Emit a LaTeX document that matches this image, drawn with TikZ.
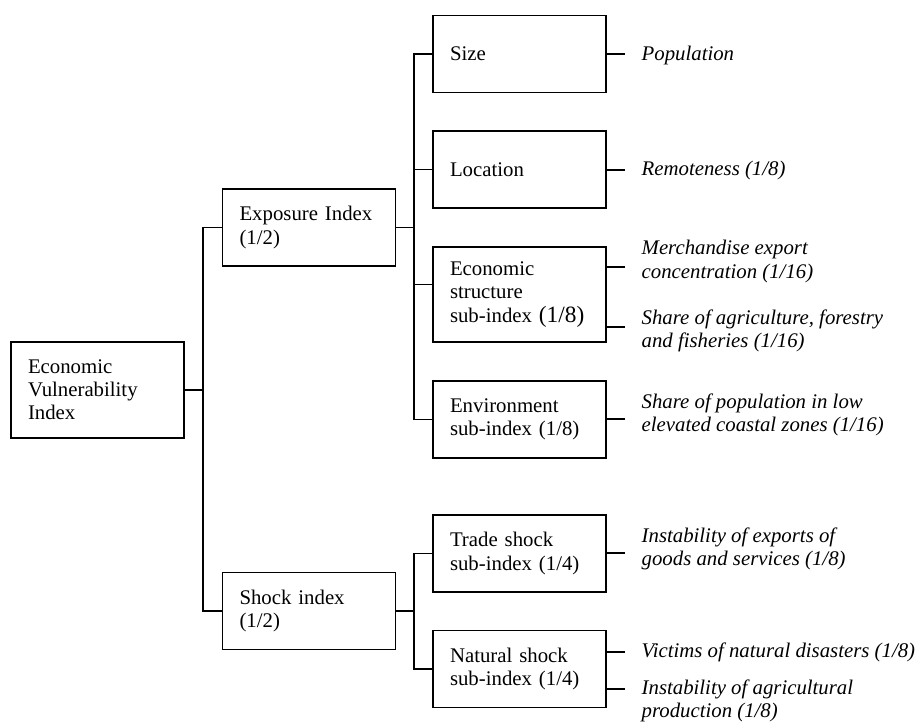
\documentclass[tikz,border=0pt]{standalone}
\usepackage{fontspec}
\setmainfont{Liberation Serif}
\newcommand{\txtsize}{\fontsize{15.6}{17.4}\selectfont}
\tikzset{
  box/.style={draw, line width=1pt, font=\txtsize, align=left,
    text width=104.25pt, inner xsep=12.75pt, inner ysep=0pt,
    minimum height=57.75pt},
  leaftext/.style={anchor=west, inner sep=0pt, font=\txtsize\itshape,
    align=left}
}
\newcommand{\leaf}[5]{
  \node[leaftext] (#2) at (641, #4) {#5};
  \coordinate (#2-end) at (625, #3);
  \draw (#1.east |- #2-end) -- (#2-end);
}

\begin{document}
\begin{tikzpicture}[x=0.75pt, y=-0.75pt, line width=1pt]
  \useasboundingbox (0,0) rectangle (924,722);
  % index boxes
  \node[box, minimum height=72pt] (evi) at (97.5,390)
    {Economic\\Vulnerability\\Index};
  \node[box] (expo) at (309,227.5) {Exposure Index\\(1/2)};
  \node[box] (shock) at (309,611) {Shock index\\(1/2)};
  \node[box] (size) at (519.5,54) {Size};
  \node[box] (loc) at (519.5,169.5) {Location};
  \node[box, minimum height=71.25pt] (eco) at (519.5,294.5)
    {Economic\\structure\\sub-index {\fontsize{17.5}{17.4}\selectfont(1/8)}};
  \node[box] (env) at (519.5,419.5) {Environment\\sub-index (1/8)};
  \node[box] (trade) at (519.5,553.5) {Trade shock\\sub-index (1/4)};
  \node[box] (nat) at (519.5,669) {Natural shock\\sub-index (1/4)};

  % tree lines
  \coordinate (trunk1) at (203,0);
  \coordinate (trunk2) at (414,0);
  \draw (evi.east) -- (evi.east -| trunk1);
  \draw (expo.west) -| (trunk1 |- shock.west) -- (shock.west);
  \draw (expo.east) -- (expo.east -| trunk2);
  \draw (size.west) -| (trunk2 |- env.west) -- (env.west);
  \draw (loc.west) -- (loc.west -| trunk2);
  \draw ([yshift=7.5pt]eco.west) -- ([yshift=7.5pt]eco.west -| trunk2);
  \draw (shock.east) -- (shock.east -| trunk2);
  \draw (trade.west) -| (trunk2 |- nat.west) -- (nat.west);

  % indicators
  \leaf{size}{pop}{54}{55}{Population}
  \leaf{loc}{remote}{170}{170}{Remoteness (1/8)}
  \leaf{eco}{merch}{267}{261.5}{Merchandise export\\concentration (1/16)}
  \leaf{eco}{agri}{327}{331}{Share of agriculture, forestry\\and fisheries (1/16)}
  \leaf{env}{coast}{419}{415}{Share of population in low\\elevated coastal zones (1/16)}
  \leaf{trade}{exports}{553}{548.5}{Instability of exports of\\goods and services (1/8)}
  \leaf{nat}{victims}{652}{652}{Victims of natural disasters (1/8)}
  \leaf{nat}{agprod}{689}{701}{Instability of agricultural\\production (1/8)}
\end{tikzpicture}
\end{document}
